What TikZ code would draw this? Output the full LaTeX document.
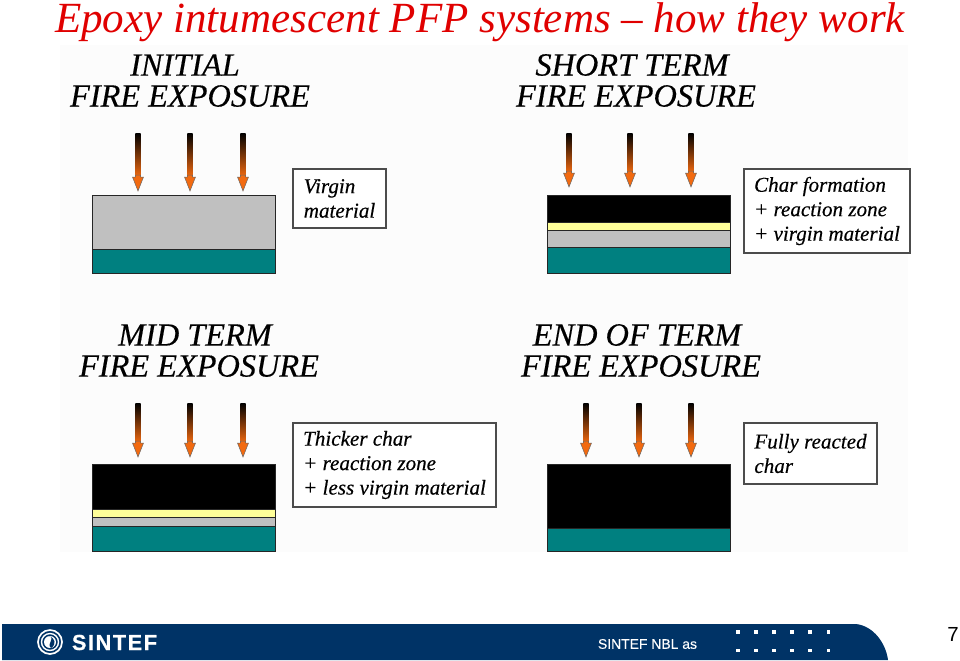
\documentclass[tikz,border=0pt]{standalone}
\usepackage{fontspec}
\setmainfont{Liberation Serif}
\setsansfont{Liberation Sans}
\newfontfamily\headfont{Liberation Serif}[ItalicFeatures={FakeBold=0.35}]
\newfontfamily\logofont{Liberation Sans}[BoldFeatures={FakeBold=0.5,LetterSpace=7}]
\newfontfamily\nblfont{Liberation Sans}[FakeBold=0.25]
\usepackage{tikz}
\definecolor{sintefblue}{HTML}{003366}
\definecolor{coating}{HTML}{C0C0C0}
\definecolor{steel}{HTML}{008080}
\definecolor{zone}{HTML}{FFFF99}
\definecolor{flame}{HTML}{F26A10}
\begin{document}
\begin{tikzpicture}[x=0.025cm,y=-0.025cm]
	\tikzset{heading/.style={font=\fontsize{23}{23}\selectfont\headfont\itshape, inner sep=0pt},
		legend/.style={draw=black!70, line width=.8pt, fill=white, inner sep=0pt, align=left, font=\fontsize{15}{17.4}\selectfont\headfont\itshape},
		layer/.style={draw=black!85, line width=.6pt},
		dot/.style={fill=white, inner sep=0pt, minimum size=2.8pt}}
	\def \firearrow #1#2#3{
		\shade[top color=black, bottom color=flame] (#1-2.7,#2) rectangle (#1+2.7,#3-14);
		\draw[fill=flame, draw=black!60, line width=.35pt]
			(#1-2.7,#3-16) -- (#1-2.7,#3-14) -- (#1-5.5,#3-14) -- (#1,#3) -- (#1+5.5,#3-14) -- (#1+2.7,#3-14) -- (#1+2.7,#3-16) -- cycle;
	}
	\useasboundingbox (0,0) rectangle (960,660);
	\fill[black!1] (60,45) rectangle (908,552);

	\node[inner sep=0pt, font=\fontsize{30.6}{30.6}\selectfont\itshape, text=red!88!black] (title) at (480,22) {Epoxy intumescent PFP systems -- how they work};

	% headings
	\foreach \x/\y/\dx/\one in {185/65/5/INITIAL, 632/65/4/SHORT TERM, 195/335/4/MID TERM, 637/335/4/END OF TERM}{
		\node[heading] (h\x\y) at (\x,\y) {\one};
		\node[heading] at (\x+\dx,\y+31) {FIRE EXPOSURE};
	}

	% arrows
	\foreach \x in {138,190,243}{
		\firearrow{\x}{133}{191}
		\firearrow{\x}{403}{457}
	}
	\foreach \x in {569,630,691}{
		\firearrow{\x}{133}{187}
	}
	\foreach \x in {586,639,691}{
		\firearrow{\x}{403}{457}
	}

	% layers
	\foreach \xa/\ya/\yb/\col in {92/195/249/coating, 92/249/273/steel,
		547/195/222/black, 547/222/230/zone, 547/230/247/coating, 547/247/273/steel,
		92/464/509/black, 92/509/517/zone, 92/517/526/coating, 92/526/551/steel,
		547/464/528/black, 547/528/551/steel}{
		\draw[layer, fill=\col] (\xa,\ya) rectangle (\xa+183,\yb);
	}

	% legends
	\node[legend, minimum width=93*.711pt, minimum height=59*.711pt] (virgin) at (339.5,198.5) {Virgin\\material};
	\node[legend, minimum width=166*.711pt, minimum height=84*.711pt] (charform) at (827,211) {Char formation\\+ reaction zone\\+ virgin material};
	\node[legend, minimum width=203*.711pt, minimum height=84*.711pt] (thicker) at (394.5,465) {Thicker char\\+ reaction zone\\+ less virgin material};
	\node[legend, minimum width=133*.711pt, minimum height=61*.711pt] (reacted) at (810.5,453.5) {Fully reacted\\char};

	% footer
	\fill[sintefblue] (2,624) -- (856,624) .. controls (874,626) and (886,644) .. (888,660) -- (2,660) -- cycle;
	\draw[white, line width=1.2pt] (50,642) circle (12);
	\draw[white, line width=1pt] (50,642) circle (8.5);
	\fill[white] (50,642) circle (6);
	\fill[sintefblue] (49,636) .. controls (56,639) and (46,643) .. (51,648) .. controls (57,644) and (55,638) .. (49,636) -- cycle;
	\node[inner sep=0pt, text=white, font=\fontsize{15.5}{15.5}\selectfont\logofont\bfseries] (logo) at (114.5,642.5) {SINTEF};
	\node[inner sep=0pt, text=white, font=\fontsize{9.9}{10}\selectfont\nblfont] (nbl) at (647.5,644) {SINTEF NBL as};
	\foreach \y in {632,650.5}{
		\foreach \x in {0,...,5}{
			\node[dot] (d\x\y) at (738+\x*18.1,\y) {};
		}
	}
	\node[inner sep=0pt, font=\fontsize{14.5}{14.5}\selectfont\sffamily] (page) at (953,634) {7};
\end{tikzpicture}
\end{document}
